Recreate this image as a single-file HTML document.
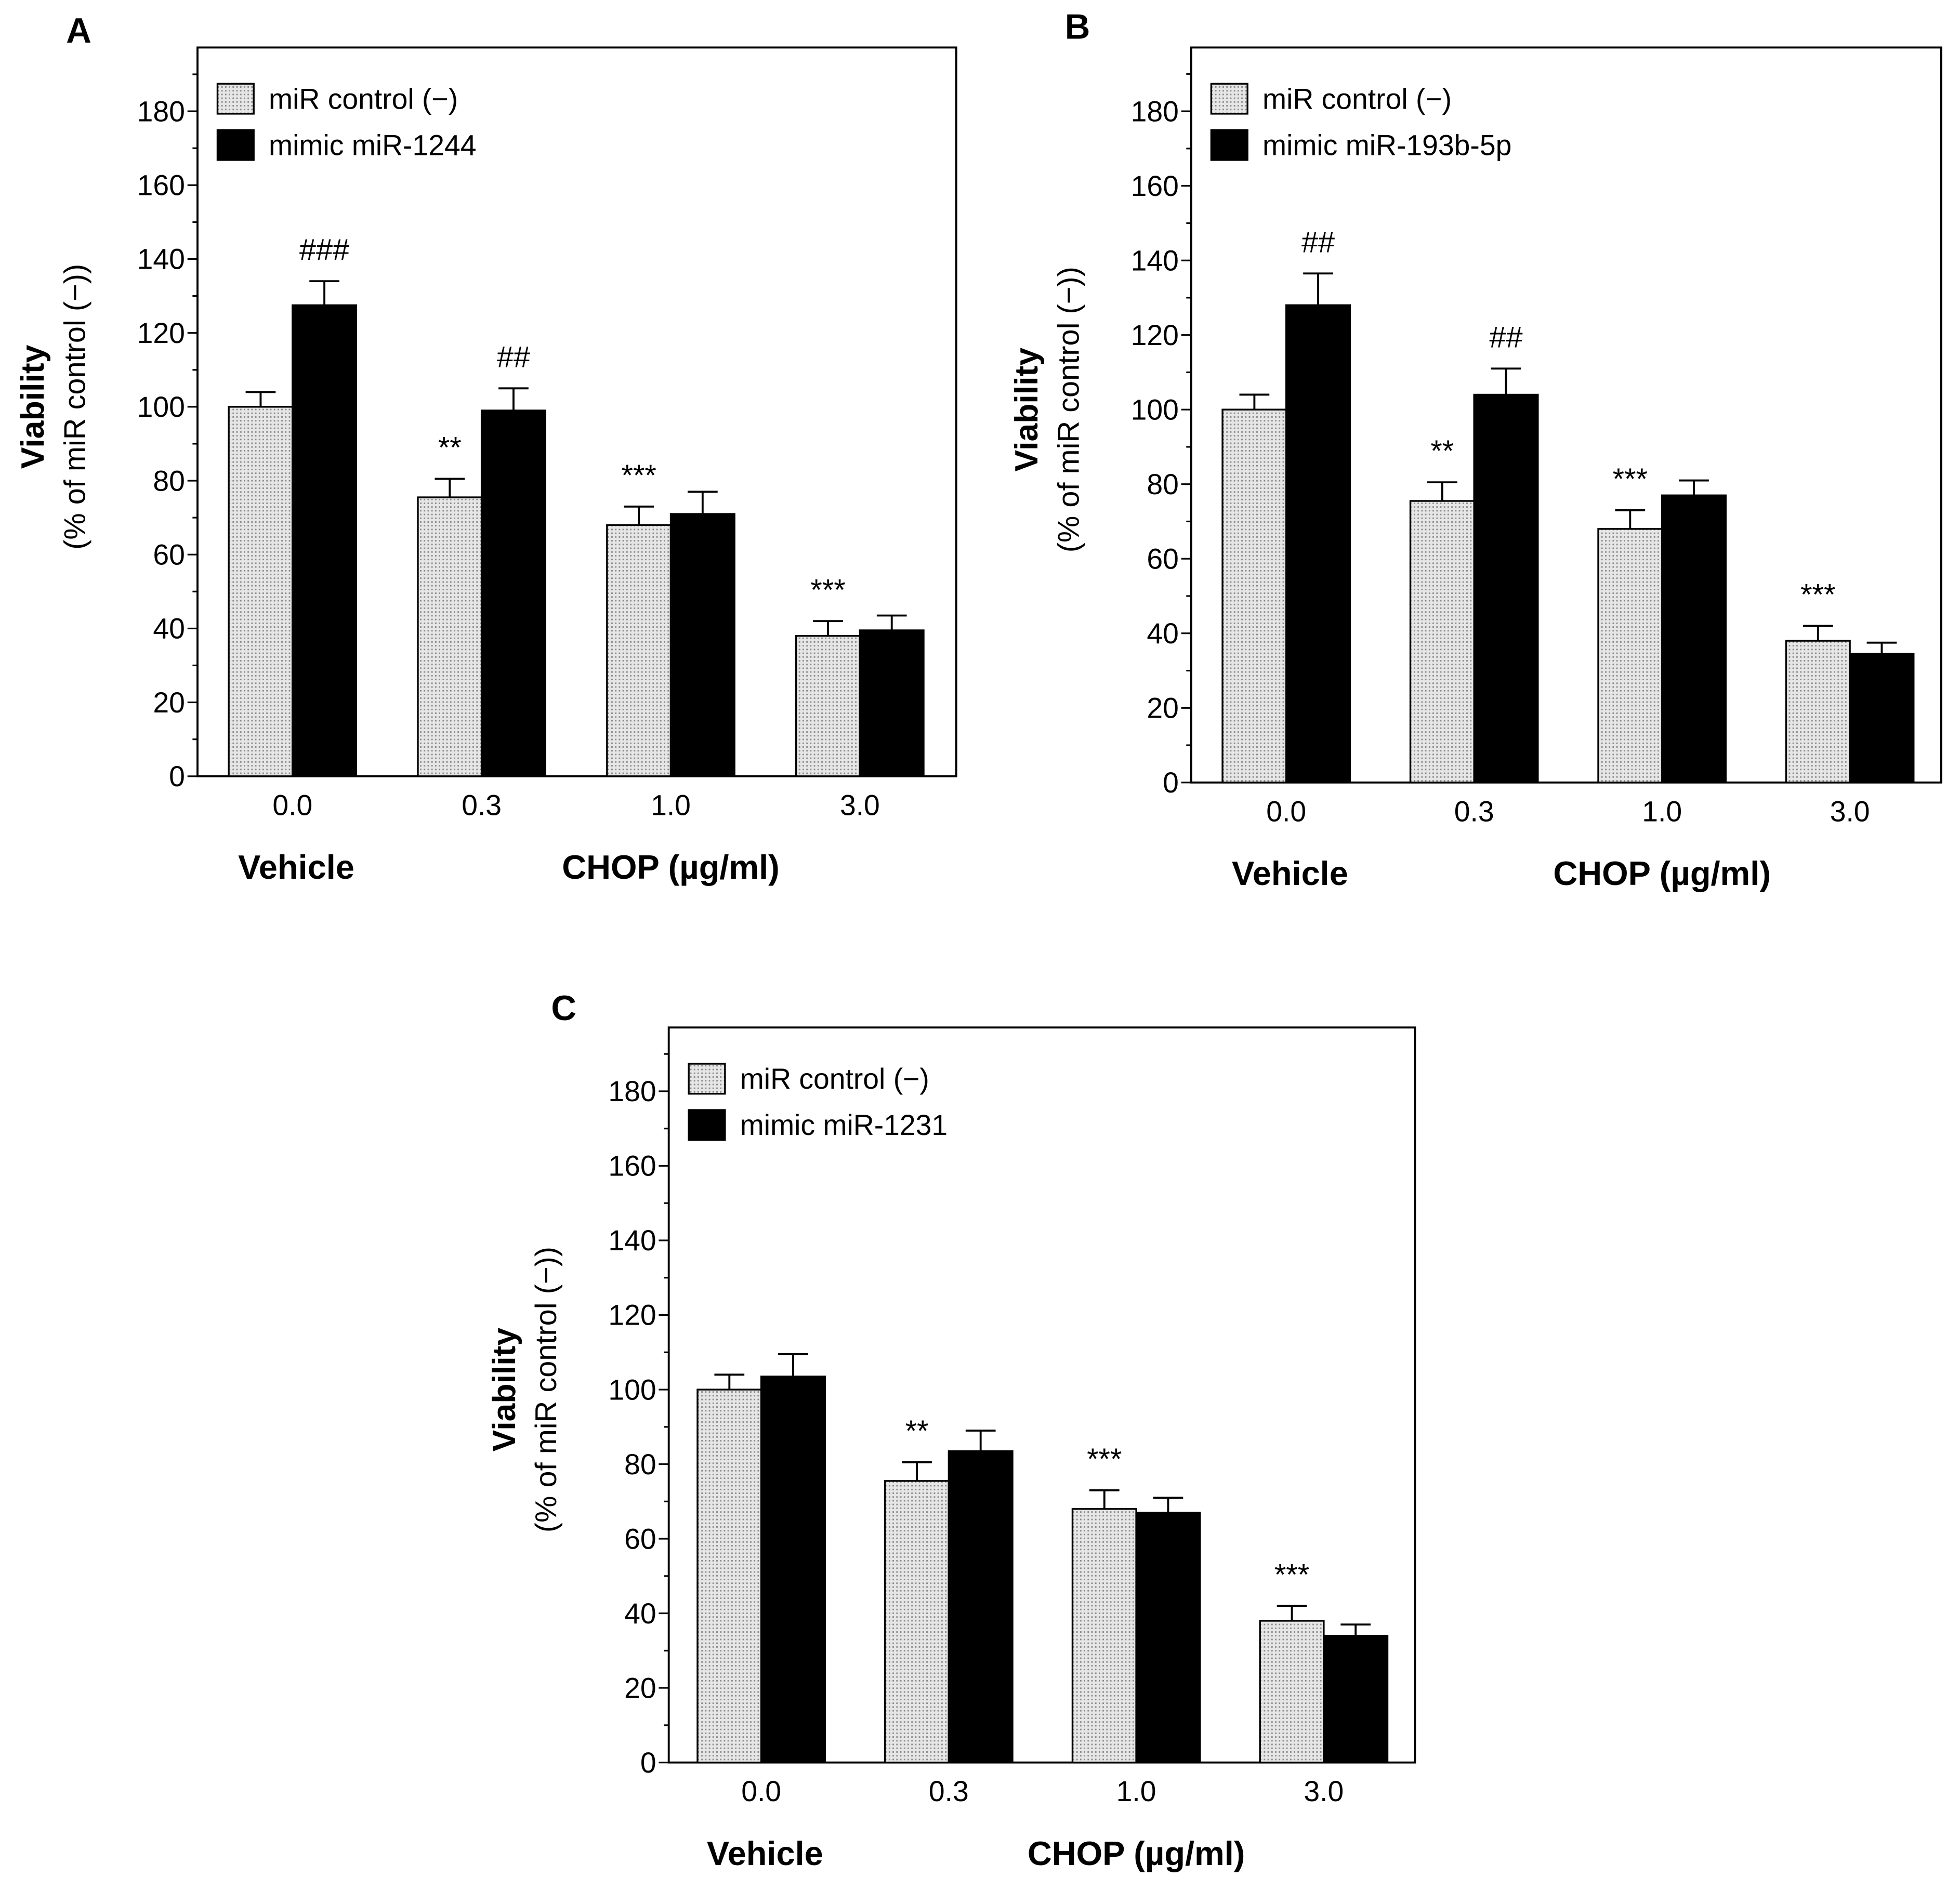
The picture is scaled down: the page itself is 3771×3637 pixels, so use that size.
<!DOCTYPE html>
<html><head><meta charset="utf-8">
<style>
html,body{margin:0;padding:0;background:#fff;}
svg{display:block;}
text{font-family:"Liberation Sans",Arial,sans-serif;fill:#000;}
</style></head>
<body>
<svg id="fig" xmlns="http://www.w3.org/2000/svg" width="3771" height="3637" viewBox="0 0 1568 1512" preserveAspectRatio="none">
<defs>
<pattern id="dots" width="3" height="3" patternUnits="userSpaceOnUse">
<rect width="3" height="3" fill="#e6e6e6"/>
<rect x="0" y="0" width="1.2" height="1.2" fill="#8a8a8a"/>
</pattern>
</defs>
</svg>
<script>
const categories = ["0.0","0.3","1.0","3.0"];
const yTicks = [0,20,40,60,80,100,120,140,160,180];
const controlValues = [100,75.5,68,38];
const controlErrors = [4,5,5,4];
const mimicA = [127.5,99,71,39.5];
const mimicAErr = [6.5,6,6,4];
const mimicB = [128,104,77,34.5];
const mimicBErr = [8.5,7,4,3];
const mimicC = [103.5,83.5,67,34];
const mimicCErr = [6,5.5,4,3];
const controlMarksA = ["","**","***","***"];
const mimicMarksA = ["###","##","",""];
const controlMarksB = ["","**","***","***"];
const mimicMarksB = ["##","##","",""];
const controlMarksC = ["","**","***","***"];
const mimicMarksC = ["","","",""];
const legendNames = ["mimic miR-1244","mimic miR-193b-5p","mimic miR-1231"];

const NS="http://www.w3.org/2000/svg";
const svg=document.getElementById('fig');
function mk(tag,attrs,parent){const e=document.createElementNS(NS,tag);for(const k in attrs)e.setAttribute(k,attrs[k]);(parent||svg).appendChild(e);return e;}
function txt(s,attrs,parent){const e=mk('text',attrs,parent);e.textContent=s;return e;}

function panel(cfg){
  const g=mk('g',{});
  
  
  const {L,T,R,B,y180,c0,step}=cfg;
  const ys=v=>B-(B-y180)*v/180;
  const xs=i=>c0+step*i;
  const bw=51;
  const lt=txt(cfg.id,{x:cfg.lx,y:cfg.ly,'font-size':28,'font-weight':'bold','text-anchor':'middle'},g);
  
  
  const fr=mk('rect',{x:L,y:T,width:R-L,height:B-T,fill:'none',stroke:'#000','stroke-width':1.6},g);
  
  
  for(let v=0;v<=190;v+=10){
    const y=ys(v);
    const major=v%20===0;
    mk('line',{x1:L-(major?8:4),x2:L,y1:y,y2:y,stroke:'#000','stroke-width':1.3},g);
  }
  yTicks.forEach(v=>{
    const t=txt(String(v),{x:L-10,y:ys(v)+8,'font-size':23,'text-anchor':'end'},g);
    
    
  });
  categories.forEach((c,i)=>{
    const t=txt(c,{x:xs(i),y:B+31,'font-size':23,'text-anchor':'middle'},g);
    
    
  });
  function series(vals,errs,fill,side,name,marks){
    vals.forEach((v,i)=>{
      const x=side<0?xs(i)-bw:xs(i);
      const top=ys(v);
      const eb=mk('line',{x1:x+bw/2,x2:x+bw/2,y1:top,y2:ys(v+errs[i]),stroke:'#000','stroke-width':1.6},g);
      
      
      mk('line',{x1:x+bw/2-12,x2:x+bw/2+12,y1:ys(v+errs[i]),y2:ys(v+errs[i]),stroke:'#000','stroke-width':1.6},g);
      const r=mk('rect',{x:x,y:top,width:bw,height:B-top,fill:fill,stroke:'#000','stroke-width':1.4},g);
      
      
      if(marks[i]){
        const m=txt(marks[i],{x:x+bw/2,y:ys(v+errs[i])-17,'font-size':24,'text-anchor':'middle'},g);
        
        
      }
    });
  }
  series(controlValues,controlErrors,'url(#dots)',-1,'control',cfg.cmarks);
  series(cfg.mv,cfg.me,'#000',1,'mimic',cfg.mmarks);
  const lx=L+16, ly=T+29;
  const l1=mk('rect',{x:lx,y:ly,width:29,height:24,fill:'url(#dots)',stroke:'#000','stroke-width':1.4},g);
  
  
  const t1=txt('miR control (−)',{x:lx+41,y:ly+20,'font-size':23},g);
  
  
  const l2=mk('rect',{x:lx,y:ly+37,width:29,height:24,fill:'#000',stroke:'#000','stroke-width':1.4},g);
  
  
  const t2=txt(cfg.legend,{x:lx+41,y:ly+57,'font-size':23},g);
  
  
  const cy=ys(100);
  const a1=txt('Viability',{x:0,y:0,'font-size':26,'font-weight':'bold','text-anchor':'middle',transform:`translate(${L-123},${cy}) rotate(-90)`},g);
  
  
  const a2=txt('(% of miR control (−))',{x:0,y:0,'font-size':24,'text-anchor':'middle',transform:`translate(${L-90},${cy}) rotate(-90)`},g);
  
  
  const v=txt('Vehicle',{x:xs(0)+3,y:B+82,'font-size':27,'font-weight':'bold','text-anchor':'middle'},g);
  
  
  const ch=txt('CHOP (µg/ml)',{x:xs(2),y:B+82,'font-size':27,'font-weight':'bold','text-anchor':'middle'},g);
  
  
}
panel({id:'A',lx:63,ly:34,L:158,T:38,R:765,B:621,y180:89,c0:234,step:151.3,mv:mimicA,me:mimicAErr,cmarks:controlMarksA,mmarks:mimicMarksA,legend:legendNames[0]});
panel({id:'B',lx:862,ly:31,L:953,T:38,R:1553,B:626,y180:89,c0:1029,step:150.3,mv:mimicB,me:mimicBErr,cmarks:controlMarksB,mmarks:mimicMarksB,legend:legendNames[1]});
panel({id:'C',lx:451,ly:816,L:535,T:822,R:1132,B:1410,y180:873,c0:609,step:150,mv:mimicC,me:mimicCErr,cmarks:controlMarksC,mmarks:mimicMarksC,legend:legendNames[2]});
</script>
</body></html>
